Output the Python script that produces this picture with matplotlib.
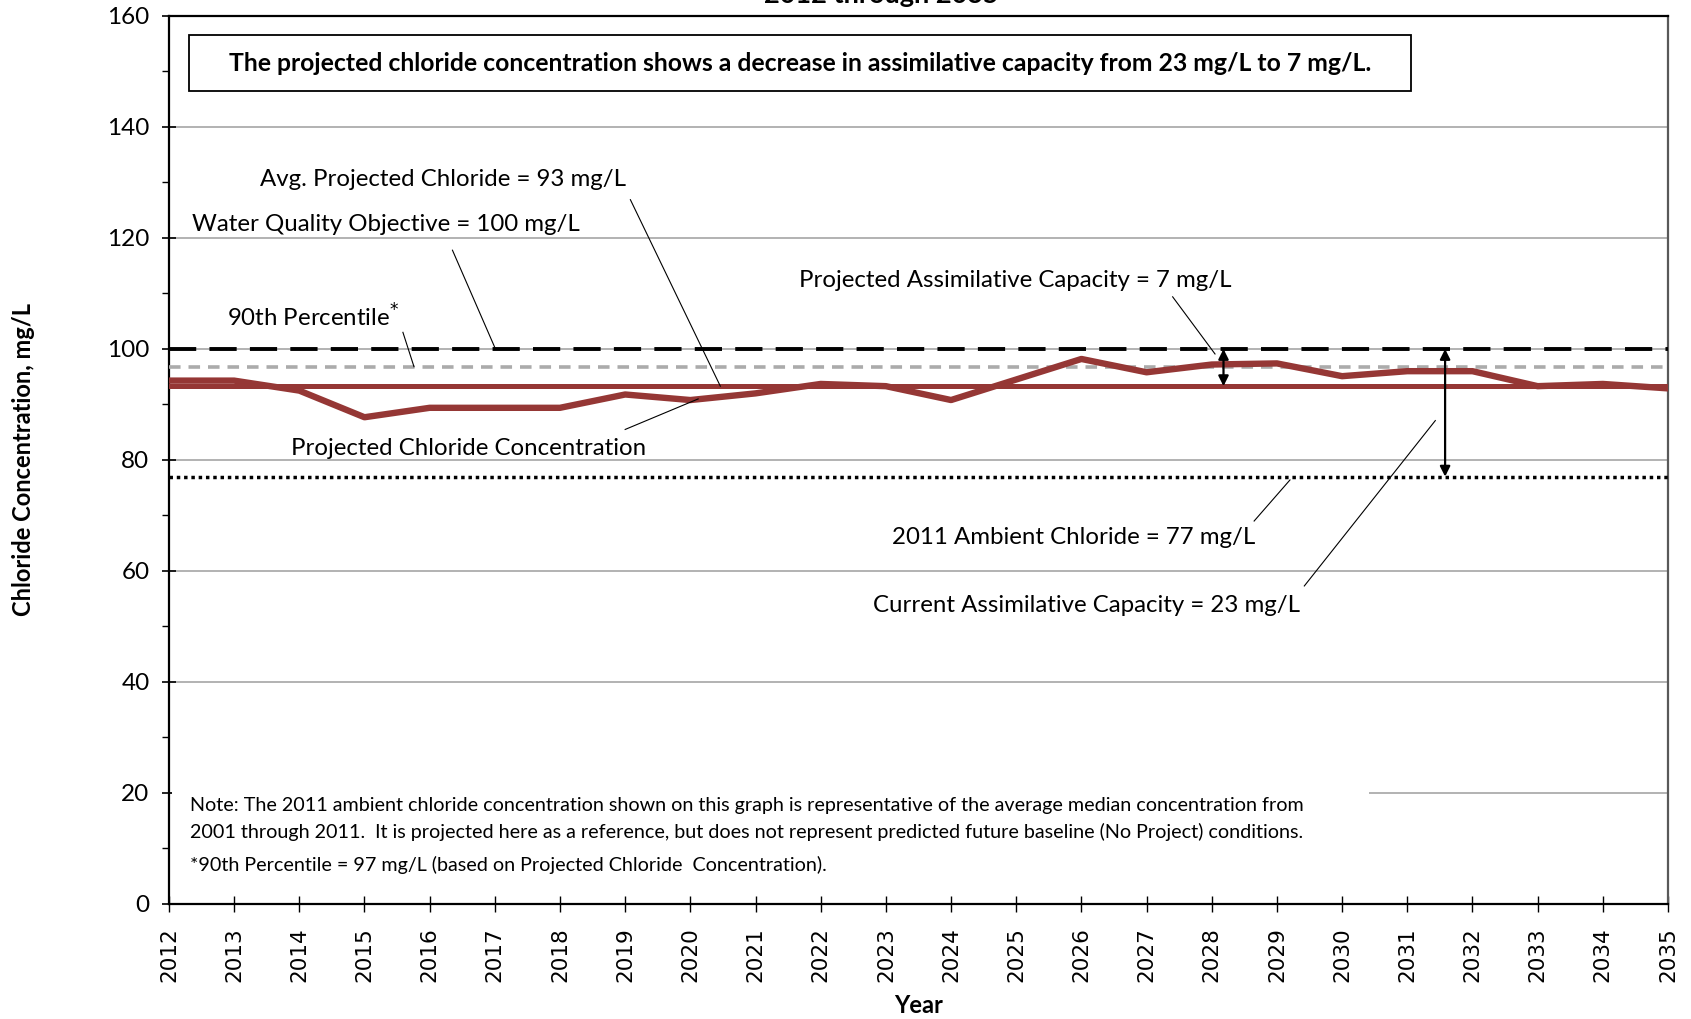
import numpy as np
import matplotlib
matplotlib.use('Agg')
import matplotlib.pyplot as plt
from matplotlib.ticker import MultipleLocator
from matplotlib.patches import Rectangle

# Chart data
years = list(range(2012, 2036))
projected = [94.3, 94.3, 92.5, 87.7, 89.4, 89.4, 89.4, 91.8, 90.8, 92.0, 93.7, 93.3,
             90.8, 94.5, 98.2, 95.8, 97.2, 97.4, 95.1, 96.0, 96.0, 93.3, 93.7, 92.9]
wqo = 100.0
pct90 = 96.8
ambient_2011 = 77.0
avg_projected = 93.3
yticks = [0, 20, 40, 60, 80, 100, 120, 140, 160]

red = '#953735'
lab_font = 'Lato'


def draw_lines(ax):
    x0, x1 = years[0], years[-1]
    ax.plot([x0, x1], [wqo, wqo], color='black', lw=2.8, dashes=(7, 3.4), zorder=4)
    ax.plot([x0, x1], [pct90, pct90], color='#ababab', lw=2.6, dashes=(3.2, 2.2), zorder=4)
    ax.plot([x0, x1], [ambient_2011, ambient_2011], color='black', lw=2.5,
            dashes=(1, 1.1), zorder=4)
    ax.plot([x0, x1], [avg_projected, avg_projected], color=red, lw=3.6, zorder=5)
    ax.plot(years, projected, color=red, lw=4.6, zorder=6)


def draw_labels(ax):
    fs = 17.3
    # (text, text x, text y, line start, line end)
    notes = [
        ('Avg. Projected Chloride = 93 mg/L', 2013.39, 130.6, (2019.08, 126.9), (2020.46, avg_projected)),
        ('Water Quality Objective = 100 mg/L', 2012.35, 122.5, (2016.35, 117.8), (2017.01, wqo)),
        ('90th Percentile$^{*}$', 2012.89, 105.8, (2015.59, 103.0), (2015.76, pct90)),
        ('Projected Chloride Concentration', 2013.87, 82.0, (2019.0, 85.5), (2020.12, 91.0)),
        ('Projected Assimilative Capacity = 7 mg/L', 2021.66, 112.4, (2027.4, 109.4), (2028.05, 99.1)),
        ('2011 Ambient Chloride = 77 mg/L', 2023.09, 66.1, (2028.65, 69.0), (2029.2, 76.4)),
        ('Current Assimilative Capacity = 23 mg/L', 2022.81, 53.7, (2029.42, 57.3), (2031.43, 87.1)),
    ]
    for txt, tx, ty, p0, p1 in notes:
        ax.text(tx, ty, txt, fontsize=fs, family=lab_font, ha='left', va='center', zorder=8)
        ax.plot([p0[0], p1[0]], [p0[1], p1[1]], color='black', lw=0.8, zorder=7)

    # double arrows for assimilative capacity
    ax.annotate('', xy=(2028.18, avg_projected), xytext=(2028.18, wqo),
                arrowprops=dict(arrowstyle='<|-|>', color='black', lw=1.6,
                                mutation_scale=15, shrinkA=0, shrinkB=0), zorder=9)
    ax.annotate('', xy=(2031.58, ambient_2011), xytext=(2031.58, wqo),
                arrowprops=dict(arrowstyle='<|-|>', color='black', lw=1.6,
                                mutation_scale=15, shrinkA=0, shrinkB=0), zorder=9)

    # summary box
    ax.add_patch(Rectangle((2012.31, 146.4), 18.74, 10.1, facecolor='white',
                           edgecolor='black', lw=1.3, zorder=8))
    ax.text(2021.68, 151.5, 'The projected chloride concentration shows a decrease in '
            'assimilative capacity from 23 mg/L to 7 mg/L.', fontsize=17.8, family=lab_font,
            weight='bold', ha='center', va='center', zorder=9)

    # note at the bottom
    ax.add_patch(Rectangle((2012.05, 3), 18.37, 23, facecolor='white', edgecolor='none', zorder=2))
    nfs = 14.2
    ax.text(2012.33, 17.7, 'Note: The 2011 ambient chloride concentration shown on this graph is '
            'representative of the average median concentration from',
            fontsize=nfs, family=lab_font, va='center', zorder=8)
    ax.text(2012.33, 13.0, '2001 through 2011.  It is projected here as a reference, but does not '
            'represent predicted future baseline (No Project) conditions.',
            fontsize=nfs, family=lab_font, va='center', zorder=8)
    ax.text(2012.33, 7.0, '*90th Percentile = 97 mg/L (based on Projected Chloride  Concentration).',
            fontsize=nfs, family=lab_font, va='center', zorder=8)


def main():
    fig = plt.figure(figsize=(16.91, 10.19), dpi=100)
    ax = fig.add_axes([0.0999, 0.1129, 0.8865, 0.8714])

    draw_lines(ax)
    draw_labels(ax)

    ax.set_xlim(years[0], years[-1])
    ax.set_ylim(0, 160)
    ax.set_xticks(years)
    ax.set_xticklabels([str(y) for y in years], rotation=90, fontsize=15.5,
                       family='DejaVu Sans')
    ax.set_yticks(yticks)
    ax.set_yticklabels([str(v) for v in yticks], fontsize=17.5, family=lab_font)
    ax.yaxis.set_minor_locator(MultipleLocator(10))
    ax.tick_params(axis='y', which='major', direction='inout', length=10, width=1.2, pad=9)
    ax.tick_params(axis='y', which='minor', direction='out', length=5, width=1.0)
    ax.tick_params(axis='x', which='major', direction='inout', length=12, width=1.0, pad=11)

    ax.grid(axis='y', which='major', color='#a6a6a6', lw=1.2, zorder=1)
    ax.set_axisbelow(True)

    for s in ['left', 'bottom', 'top']:
        ax.spines[s].set_color('black')
        ax.spines[s].set_linewidth(1.6)
    ax.spines['right'].set_color('#595959')
    ax.spines['right'].set_linewidth(1.6)

    ax.set_xlabel('Year', fontsize=17, family=lab_font, weight='bold', labelpad=8)
    ax.set_ylabel('Chloride Concentration, mg/L', fontsize=17, family=lab_font,
                  weight='bold', labelpad=52)

    # title is cut off at the top edge in the original
    fig.text(0.521, 0.997, '2012 through 2035', fontsize=19.5, family=lab_font,
             weight='bold', ha='center', va='baseline')

    plt.savefig('out.png', dpi=100, facecolor='w')


if __name__ == '__main__':
    main()
